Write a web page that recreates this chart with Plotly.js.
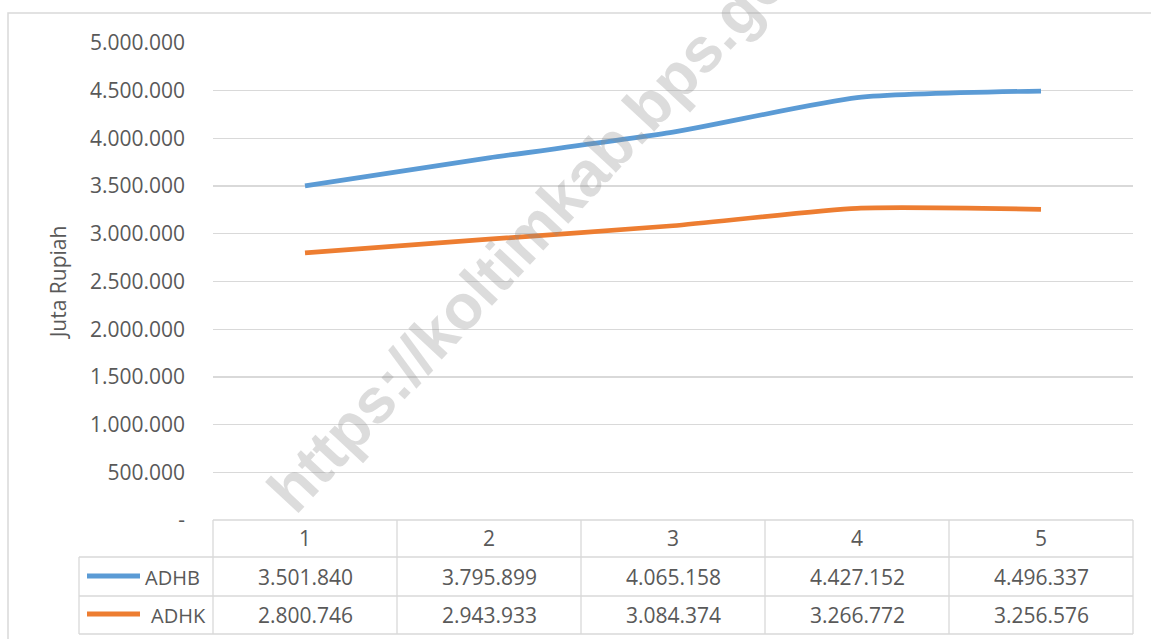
<!DOCTYPE html>
<html>
<head>
<meta charset="utf-8">
<script src="https://cdn.plot.ly/plotly-3.0.1.min.js"></script>
<style>
  html, body { margin: 0; padding: 0; background: #ffffff; }
  #chart { width: 1151px; height: 639px; }
</style>
</head>
<body>
<div id="chart"></div>
<script>
// ---- data ----
const categories = ['1', '2', '3', '4', '5'];
const seriesNames = ['ADHB', 'ADHK'];
const adhb = [3501840, 3795899, 4065158, 4427152, 4496337];
const adhk = [2800746, 2943933, 3084374, 3266772, 3256576];
const yTickVals = [0, 500000, 1000000, 1500000, 2000000, 2500000, 3000000, 3500000, 4000000, 4500000, 5000000];
const yTickText = ['-', '500.000', '1.000.000', '1.500.000', '2.000.000', '2.500.000', '3.000.000', '3.500.000', '4.000.000', '4.500.000', '5.000.000'];
const yTitle = 'Juta Rupiah';
const watermark = 'https://koltimkab.bps.go.id';

// ---- style / layout constants ----
const W = 1151, H = 639;
const L = 213, R = 1133, T = 43, B = 520;
const colors = ['#5B9BD5', '#ED7D31'];
const gridColor = '#D9D9D9';
const textColor = '#595959';
const FONT = '"Open Sans", "Noto Sans", sans-serif';

function fmt(v) {
  return String(v).replace(/\B(?=(\d{3})+(?!\d))/g, '.');
}
function pxX(px) { return (px - L) / (R - L); }
function pxY(py) { return (B - py) / (B - T); }

const xs = categories.map((c, i) => i + 1);
const xMin = 0.5, xMax = categories.length + 0.5;
function catToPaper(v) { return (v - xMin) / (xMax - xMin); }

const traces = [adhb, adhk].map((vals, k) => ({
  type: 'scatter',
  mode: 'lines',
  x: xs,
  y: vals,
  name: seriesNames[k],
  line: { color: colors[k], width: 4.7, shape: 'spline', smoothing: 0.6 },
  hoverinfo: 'x+y'
}));

// table geometry (px)
const rowLines = [520, 557, 596, 634];
const rowCenters = [577, 615];
const legendLeft = 79;

const shapes = [];
const lineStyle = { color: gridColor, width: 1.3 };
// outer border
shapes.push({ type: 'rect', xref: 'paper', yref: 'paper',
  x0: pxX(8), x1: pxX(1165), y0: pxY(13), y1: pxY(660),
  line: { color: gridColor, width: 1.5 }, fillcolor: 'rgba(0,0,0,0)', layer: 'below' });
// horizontal table lines
rowLines.forEach((py, i) => {
  shapes.push({ type: 'line', xref: 'paper', yref: 'paper',
    x0: i === 0 ? 0 : pxX(legendLeft), x1: 1, y0: pxY(py), y1: pxY(py), line: lineStyle });
});
// vertical table lines at category boundaries
for (let b = 0; b <= categories.length; b++) {
  const xp = catToPaper(xMin + b);
  shapes.push({ type: 'line', xref: 'paper', yref: 'paper',
    x0: xp, x1: xp, y0: pxY(rowLines[0]), y1: pxY(rowLines[3]), line: lineStyle });
}
shapes.push({ type: 'line', xref: 'paper', yref: 'paper',
  x0: pxX(legendLeft), x1: pxX(legendLeft), y0: pxY(rowLines[1]), y1: pxY(rowLines[3]), line: lineStyle });
// legend swatches
rowCenters.forEach((py, k) => {
  shapes.push({ type: 'line', xref: 'paper', yref: 'paper',
    x0: pxX(87), x1: pxX(140), y0: pxY(py - 1), y1: pxY(py - 1),
    line: { color: colors[k], width: 5 } });
});

const annotations = [];
[adhb, adhk].forEach((vals, k) => {
  vals.forEach((v, i) => {
    annotations.push({ xref: 'x', yref: 'paper', x: xs[i], y: pxY(rowCenters[k]),
      text: fmt(v), showarrow: false, xanchor: 'center', yanchor: 'middle',
      font: { family: FONT, size: 21, color: textColor } });
  });
  annotations.push({ xref: 'paper', yref: 'paper', x: pxX(k === 0 ? 143 : 149), y: pxY(rowCenters[k]),
    text: seriesNames[k], showarrow: false, xanchor: 'left', yanchor: 'middle',
    font: { family: FONT, size: 20, color: textColor } });
});
// watermark
annotations.push({ xref: 'paper', yref: 'paper', x: pxX(553), y: pxY(208),
  text: '<b>' + watermark + '</b>', showarrow: false, textangle: -47,
  xanchor: 'center', yanchor: 'middle',
  font: { family: '"Liberation Sans", Arial, sans-serif', size: 63, color: 'rgba(140,140,140,0.3)' } });

const layout = {
  width: W, height: H,
  margin: { l: L, r: W - R, t: T, b: H - B, pad: 0 },
  paper_bgcolor: '#ffffff', plot_bgcolor: '#ffffff',
  showlegend: false,
  font: { family: FONT, color: textColor },
  xaxis: {
    range: [xMin, xMax], tickvals: xs, ticktext: categories,
    showgrid: false, zeroline: false, showline: false,
    ticks: '', ticklabelstandoff: 4,
    tickfont: { family: FONT, size: 21, color: textColor },
    fixedrange: true
  },
  yaxis: {
    range: [0, 5000000], tickvals: yTickVals, ticktext: yTickText,
    showgrid: true, gridcolor: gridColor, gridwidth: 1.3,
    zeroline: false, showline: false, ticks: '', ticklabelstandoff: 27,
    tickfont: { family: FONT, size: 21, color: textColor },
    title: { text: yTitle, font: { family: FONT, size: 21, color: textColor }, standoff: 17 },
    fixedrange: true
  },
  shapes: shapes,
  annotations: annotations
};

Plotly.newPlot('chart', traces, layout, { displayModeBar: false, staticPlot: true });
</script>
</body>
</html>
